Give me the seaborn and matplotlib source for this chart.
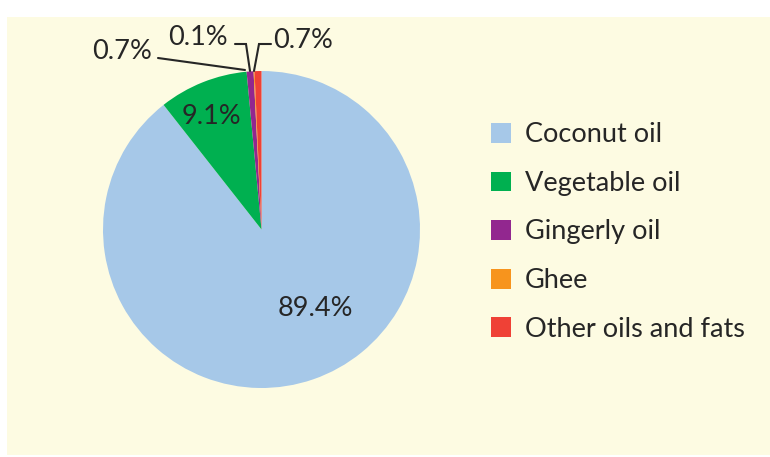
"""
Pie chart of cooking oil / fat usage shares
"""

import matplotlib
matplotlib.use('Agg')
import matplotlib.pyplot as plt
import matplotlib.patches as mpatches
import seaborn as sns

# Data
categories = ['Coconut oil', 'Vegetable oil', 'Gingerly oil', 'Ghee', 'Other oils and fats']
shares = [89.4, 9.1, 0.7, 0.1, 0.7]
slice_labels = ['89.4%', '9.1%', '0.7%', '0.1%', '0.7%']
colors = ['#A6C8E8', '#00B050', '#92278F', '#F7941D', '#EF4136']

sns.set_theme(style='white')
plt.rcParams['font.family'] = ['Lato', 'DejaVu Sans']

W, H = 770, 457
CX, CY, R = 261.5, 229.5, 158.5   # pie centre / radius in pixels
TEXT = '#262626'
FS = 19.5


def px2d(px, py):
    """Pixel position (from top-left) to pie data units."""
    return (px - CX) / R, (CY - py) / R


fig = plt.figure(figsize=(W / 100, H / 100), dpi=100)
fig.patch.set_facecolor('white')

ax = fig.add_axes([0, 0, 1, 1])
ax.set_facecolor('none')

# cream panel
ax.add_patch(mpatches.Rectangle((7 / W, 2 / H), 763 / W, 438 / H,
                                transform=fig.transFigure,
                                facecolor='#FDFBE2', edgecolor='none', zorder=0))

wedges, _ = ax.pie(shares, colors=colors, startangle=90, counterclock=False,
                   radius=1, center=(0, 0), wedgeprops={'linewidth': 0, 'zorder': 1},
                   frame=True)

x0, _ = px2d(0, 0)
x1, _ = px2d(W, 0)
_, y0 = px2d(0, H)
_, y1 = px2d(0, 0)
ax.axis('off')
ax.set_xlim(x0, x1)
ax.set_ylim(y0, y1)
ax.set_aspect('auto')

# label positions (pixels) and leader lines
label_px = [(315, 308), (211, 117), (122, 52), (198, 38), (303, 41)]
leaders = [None, None,
           [(158, 58), (245, 70)],
           [(235, 44), (246, 44), (250, 71)],
           [(271, 44), (259, 44), (254, 71)]]

for lab, (px, py), line in zip(slice_labels, label_px, leaders):
    x, y = px2d(px, py)
    ax.text(x, y, lab, ha='center', va='center', fontsize=FS, color=TEXT, zorder=3)
    if line:
        pts = [px2d(*p) for p in line]
        ax.plot([p[0] for p in pts], [p[1] for p in pts], color=TEXT, lw=1.5,
                solid_joinstyle='miter', zorder=3)

handles = [mpatches.Patch(facecolor=c, edgecolor='none', label=n)
           for c, n in zip(colors, categories)]
fig.legend(handles=handles, loc='center left', bbox_to_anchor=(491 / W, 1 - 232 / H),
           frameon=False, fontsize=FS, handlelength=0.75, handleheight=0.75,
           handletextpad=0.5, labelspacing=0.87, borderpad=0, borderaxespad=0,
           labelcolor=TEXT)

fig.savefig('out.png', dpi=100, facecolor='white')
